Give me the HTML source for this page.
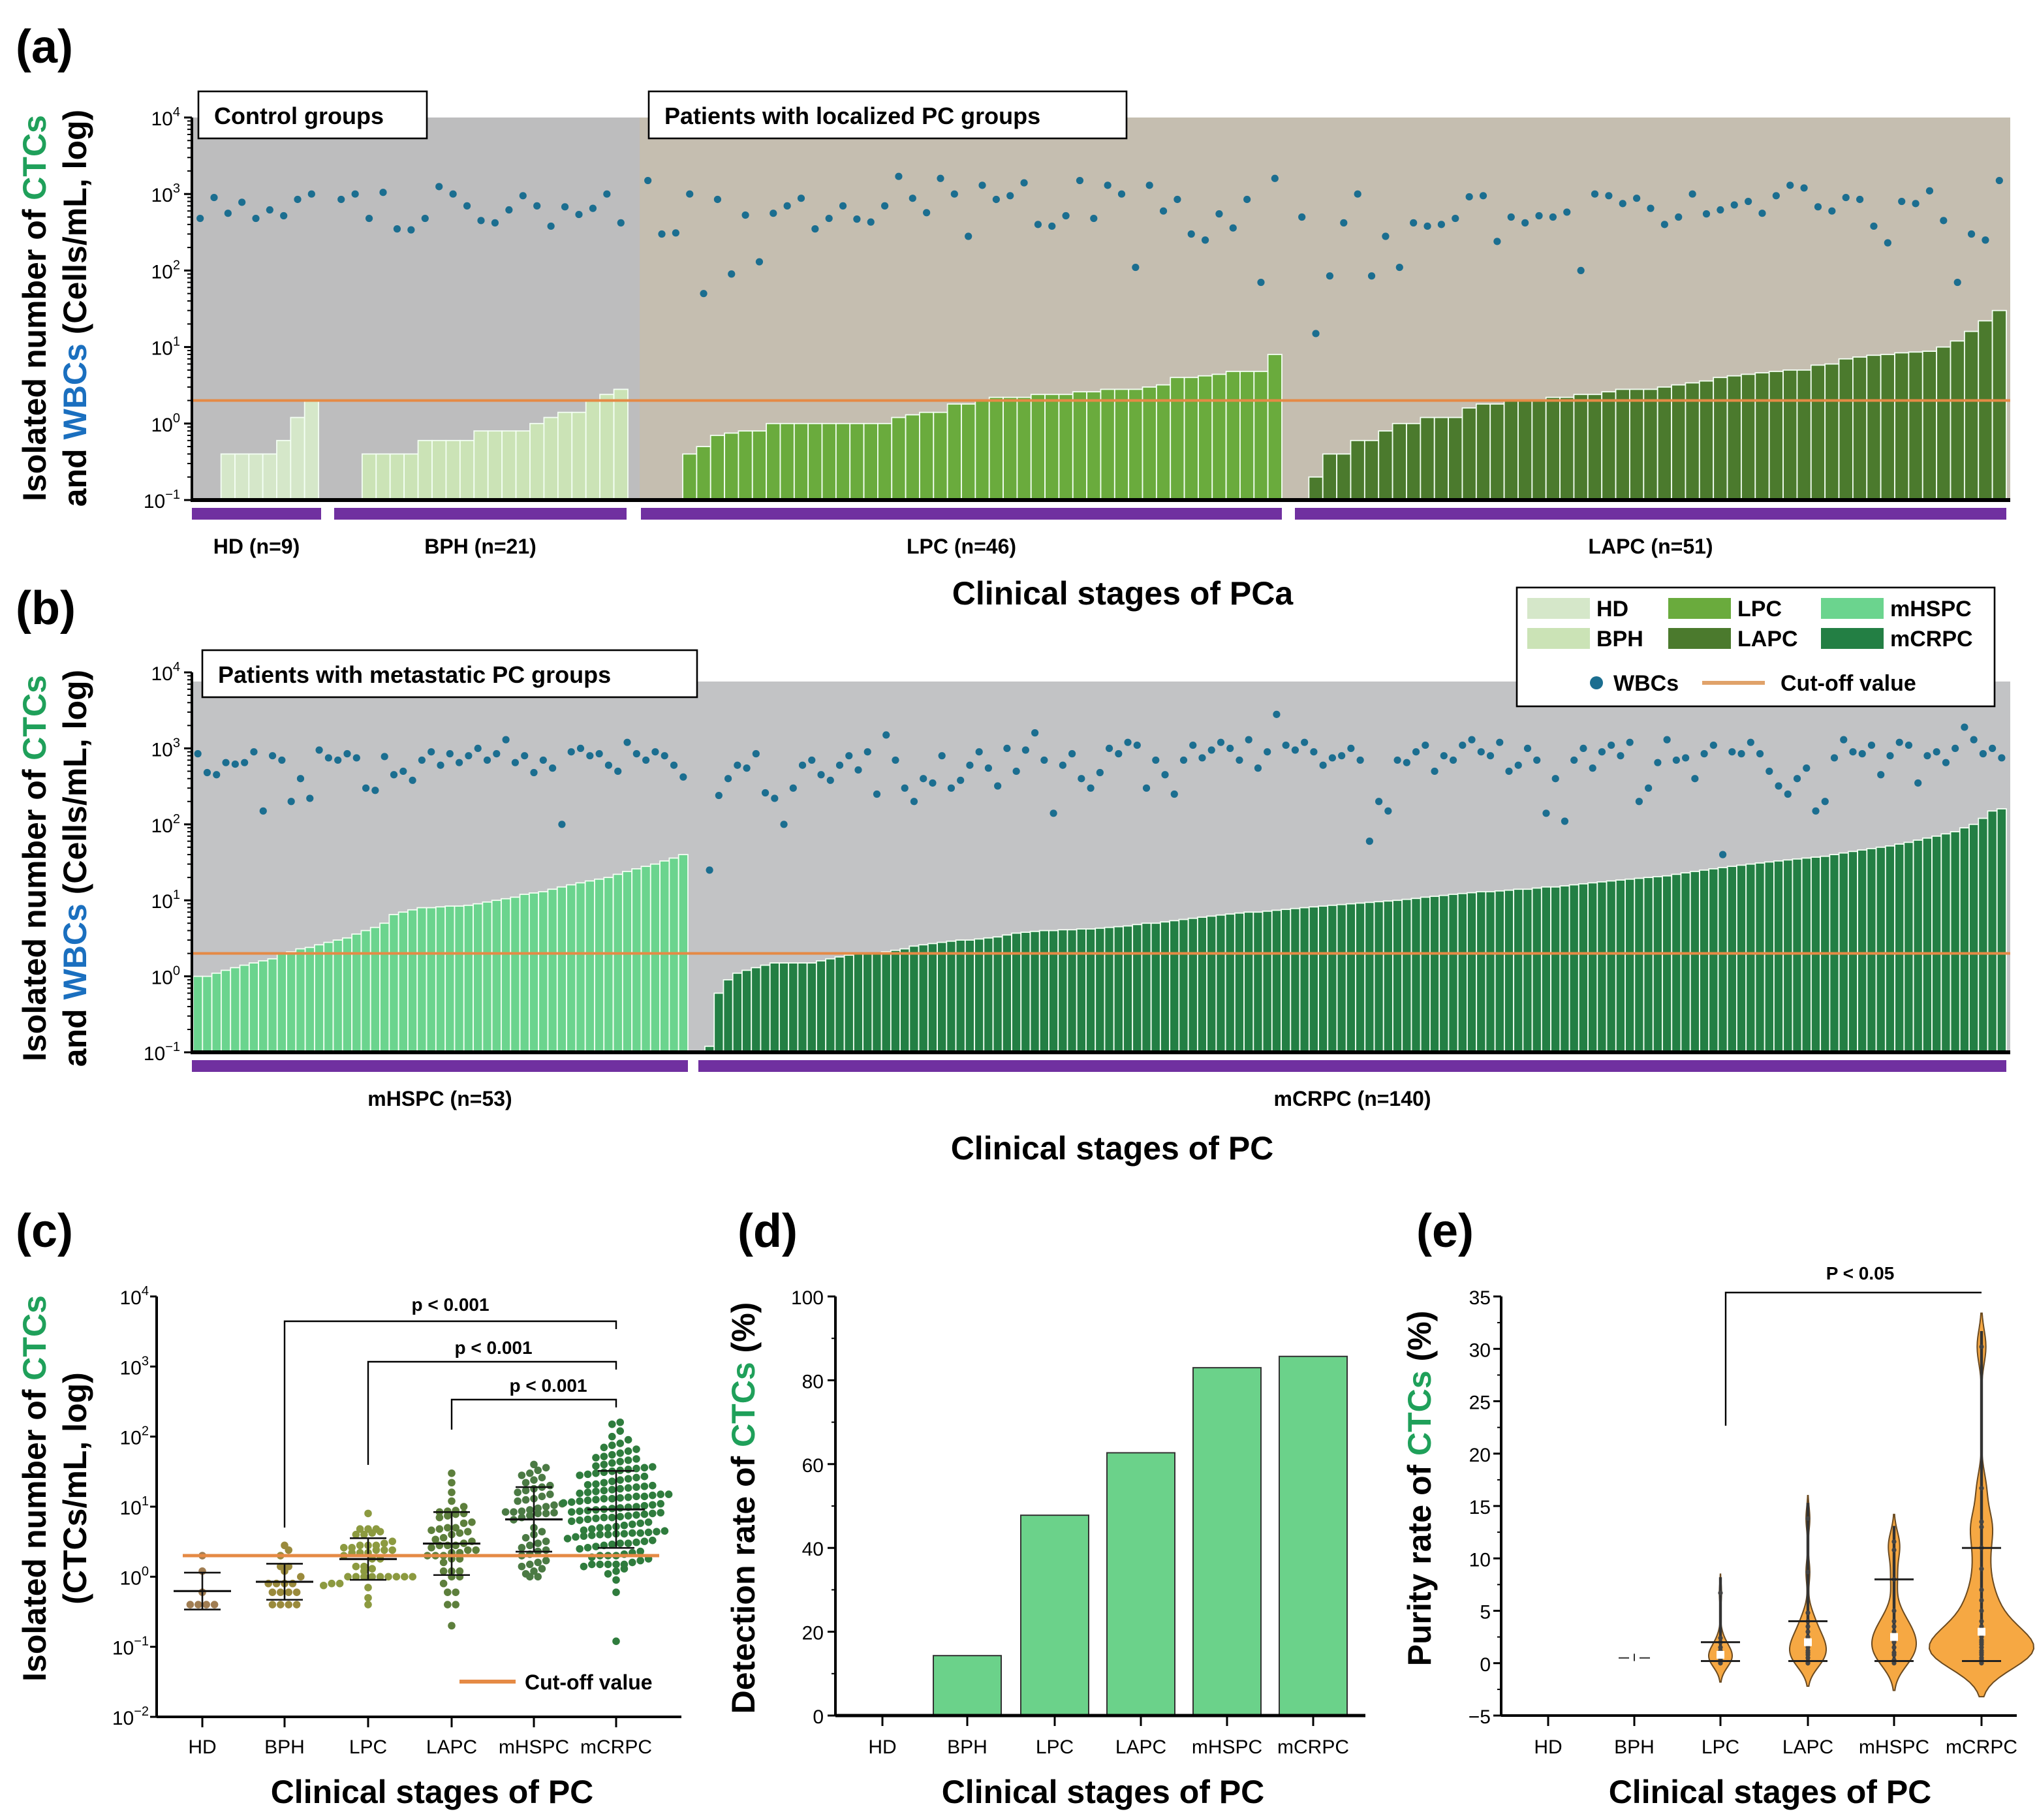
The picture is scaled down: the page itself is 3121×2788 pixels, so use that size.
<!DOCTYPE html>
<html><head><meta charset="utf-8"><style>
html,body{margin:0;padding:0;background:#fff;}
svg{display:block;font-family:"Liberation Sans",Arial,sans-serif;}
</style></head><body>
<svg id="fig" width="3121" height="2788" viewBox="0 0 1560.5 1394" xmlns="http://www.w3.org/2000/svg">
<rect x="0" y="0" width="1560.5" height="1394" fill="#fff"/>
<text x="12" y="48" font-size="36" font-weight="bold">(a)</text>
<text x="12" y="478" font-size="36" font-weight="bold">(b)</text>
<text x="12" y="955" font-size="36" font-weight="bold">(c)</text>
<text x="565" y="955" font-size="36" font-weight="bold">(d)</text>
<text x="1085" y="955" font-size="36" font-weight="bold">(e)</text>
<text transform="translate(35,236) rotate(-90)" text-anchor="middle" font-size="25" font-weight="bold">Isolated number of <tspan fill="#1fa05a">CTCs</tspan></text>
<text transform="translate(66,236) rotate(-90)" text-anchor="middle" font-size="25" font-weight="bold">and <tspan fill="#1a6fbf">WBCs</tspan> (Cells/mL, log)</text>
<text transform="translate(35,665) rotate(-90)" text-anchor="middle" font-size="25" font-weight="bold">Isolated number of <tspan fill="#1fa05a">CTCs</tspan></text>
<text transform="translate(66,665) rotate(-90)" text-anchor="middle" font-size="25" font-weight="bold">and <tspan fill="#1a6fbf">WBCs</tspan> (Cells/mL, log)</text>
<text transform="translate(35,1140) rotate(-90)" text-anchor="middle" font-size="25" font-weight="bold">Isolated number of <tspan fill="#1fa05a">CTCs</tspan></text>
<text transform="translate(66,1140) rotate(-90)" text-anchor="middle" font-size="25" font-weight="bold">(CTCs/mL, log)</text>
<text transform="translate(578,1155) rotate(-90)" text-anchor="middle" font-size="25" font-weight="bold">Detection rate of <tspan fill="#1fa05a">CTCs</tspan> (%)</text>
<text transform="translate(1096,1140) rotate(-90)" text-anchor="middle" font-size="25" font-weight="bold">Purity rate of <tspan fill="#1fa05a">CTCs</tspan> (%)</text>
<text x="860" y="463" text-anchor="middle" font-size="25" font-weight="bold">Clinical stages of PCa</text>
<text x="852" y="888" text-anchor="middle" font-size="25" font-weight="bold">Clinical stages of PC</text>
<text x="331" y="1381" text-anchor="middle" font-size="25" font-weight="bold">Clinical stages of PC</text>
<text x="845" y="1381" text-anchor="middle" font-size="25" font-weight="bold">Clinical stages of PC</text>
<text x="1356" y="1381" text-anchor="middle" font-size="25" font-weight="bold">Clinical stages of PC</text>
<g id="layer"></g>
</svg>
<script>
// ---------- DATA ----------
const cutoff = 2;
const hdCTC = [0,0,0.4,0.4,0.4,0.4,0.6,1.2,2.0];
const bphCTC = [0,0,.4,.4,.4,.4,.6,.6,.6,.6,.8,.8,.8,.8,1,1.2,1.4,1.4,2,2.4,2.8];
const lpcCTC = [0,0,0,.4,.5,.7,.75,.8,.8,1,1,1,1,1,1,1,1,1,1.2,1.3,1.4,1.4,1.8,1.8,2,2.2,2.2,2.2,2.4,2.4,2.4,2.6,2.6,2.8,2.8,2.8,3,3.2,4,4,4.2,4.4,4.8,4.8,4.8,8];
const lapcCTC = [0,0.2,0.4,0.4,0.6,0.6,0.8,1.0,1.0,1.2,1.2,1.2,1.6,1.8,1.8,2,2,2,2.2,2.2,2.4,2.4,2.6,2.8,2.8,2.8,3,3.2,3.4,3.6,4,4.2,4.4,4.6,4.8,5,5,5.8,6,7,7.4,7.8,8,8.4,8.6,8.8,10,12,16,22,30];
const hdWBC = [480,900,560,780,480,620,520,850,1000];
const bphWBC = [850,1000,480,1050,350,340,480,1250,1000,700,450,420,620,950,700,380,680,540,650,1000,420];
const lpcWBC = [1500,300,310,1000,50,850,90,530,130,560,700,880,350,480,700,470,430,700,1700,880,570,1600,1000,280,1300,850,950,1400,400,380,520,1500,480,1300,1000,110,1300,600,850,300,250,550,360,850,70,1600];
const lapcWBC = [500,15,85,420,1000,85,280,110,420,380,400,480,920,950,240,500,420,520,500,580,100,1000,950,750,880,650,400,500,1000,550,620,720,800,560,950,1300,1200,680,600,900,850,380,230,800,750,1100,450,70,300,250,1500];
const mhspcCTC = [1.0,1.0,1.1,1.2,1.3,1.4,1.5,1.6,1.7,2.0,2.1,2.3,2.4,2.6,2.8,3.0,3.2,3.6,4.0,4.4,5.0,6.5,7.0,7.5,8.0,8.0,8.2,8.4,8.4,8.6,9.0,9.5,10,10.5,11,12,12.5,13,14,15,16,17,18,19,20,22,24,26,28,30,33,36,40];
const mcrpcCTC = [0.12,0.6,0.9,1.1,1.2,1.3,1.4,1.5,1.5,1.5,1.5,1.5,1.6,1.7,1.8,1.9,2.0,2.0,2.0,2.1,2.2,2.3,2.5,2.6,2.7,2.8,2.9,3.0,3.0,3.1,3.2,3.3,3.5,3.7,3.8,3.9,4.0,4.0,4.1,4.1,4.2,4.2,4.3,4.4,4.5,4.6,4.8,5.0,5.0,5.2,5.4,5.6,5.8,6.0,6.2,6.4,6.6,6.8,7.0,7.0,7.2,7.4,7.6,7.8,8.0,8.2,8.4,8.6,8.8,9.0,9.2,9.4,9.6,9.8,10,10.3,10.6,11,11.3,11.6,12,12.3,12.6,13,13,13.3,13.6,14,14,14.5,15,15,15.5,16,16.5,17,17.5,18,18.5,19,19.5,20,20.5,21,22,23,24,25,26,27,28,29,30,31,32,33,34,35,36,37,38,40,42,44,46,48,50,52,55,58,62,66,70,75,80,90,100,120,150,160];
const mhspcWBC = [850,480,450,650,620,650,900,150,800,700,200,400,220,950,750,700,850,750,300,280,780,450,500,380,700,900,600,850,650,800,1000,700,850,1300,650,800,480,700,550,100,900,1000,800,850,600,500,1200,850,700,900,800,600,420];
const mcrpcWBC = [25,240,400,600,550,850,260,220,100,300,600,700,450,380,600,800,520,900,250,1500,700,300,200,400,350,800,300,380,600,900,550,320,1000,500,950,1600,700,140,600,850,400,300,480,1000,850,1200,1100,300,700,450,250,700,1100,750,950,1200,1000,700,1300,550,900,2800,1100,950,1200,900,600,750,800,1000,700,60,200,150,700,650,900,1100,500,800,700,1100,1300,900,800,1200,500,600,1000,700,140,400,110,700,1000,550,900,1100,800,1200,200,300,650,1300,700,750,400,850,1100,40,900,850,1200,850,500,320,250,400,550,150,200,750,1300,900,850,1100,450,800,1200,1100,350,800,900,650,1000,1900,1300,850,1000,750];
const stageLabels = ["HD","BPH","LPC","LAPC","mHSPC","mCRPC"];
const detectionRate = [0,14.3,47.8,62.7,83.0,85.7];
const logTickExps = [-1,0,1,2,3,4];
const logTickExpsC = [-2,-1,0,1,2,3,4];
const pctTicks = [0,20,40,60,80,100];
const purityTicks = [-5,0,5,10,15,20,25,30,35];
const purityLPC = [0,0,0.2,0.3,0.5,0.5,0.6,0.8,1,1,1.2,1.5,2,2.4,6.7];
const purityLAPC = [0,0,0.2,0.5,0.8,1,1.2,1.5,1.8,2,2.2,2.5,3,3.5,4,4.8,8.7,13.8];
const purityMHSPC = [0,0.3,0.8,1,1.5,2,2.2,2.5,3,3.5,4,5,8,10.8,11.6];
const purityMCRPC = [0,0.2,0.3,0.5,0.8,1,1.2,1.5,1.8,2,2.2,2.5,3,3.5,4,5,6,7,9,11,13,13.5,16.7,30.2];

// ---------- HELPERS ----------
const NS = "http://www.w3.org/2000/svg";
const L = document.getElementById('layer');
function mk(tag, attrs, name, inter, parent){
  const e = document.createElementNS(NS, tag);
  for (const k in attrs) e.setAttribute(k, attrs[k]);
  
  
  (parent || L).appendChild(e);
  return e;
}
function txt(x,y,s,size,name,opts){
  const t = mk('text', Object.assign({x:x,y:y,'font-size':size,'text-anchor':'middle'}, opts||{}), name, 'false');
  t.textContent = s;
  return t;
}
function logText(x,y,exp,name){
  const t = mk('text',{x:x,y:y,'font-size':15,'text-anchor':'end'},name,'false');
  const a = document.createElementNS(NS,'tspan'); a.textContent='10'; t.appendChild(a);
  const b = document.createElementNS(NS,'tspan'); b.setAttribute('dy','-7'); b.setAttribute('font-size','10'); b.textContent=String(exp).replace('-','\u2212'); t.appendChild(b);
}

// ---------- PANEL A/B ----------
function logPanel(pre, top, bottom, x0, x1, bgs, groups){
  const dec = (bottom-top)/5;
  const y = v => bottom - (Math.log10(v)+1)*dec;
  bgs.forEach((b,i)=>mk('rect',{x:b[0],y:b[1],width:b[2]-b[0],height:bottom-b[1],fill:b[3]},pre+'-background-'+i,'false'));
  groups.forEach(g=>{
    const w = (g.x1-g.x0)/g.ctc.length;
    g.ctc.forEach((v,i)=>{
      if (v>0.1) mk('rect',{x:g.x0+i*w,y:y(v),width:w,height:bottom-y(v),fill:g.color,stroke:'#f4fff4','stroke-width':0.9},pre+'-bar-'+g.key+'-'+i,'false');
    });
    g.wbc.forEach((v,i)=>{
      mk('circle',{cx:g.x0+(i+0.5)*w,cy:y(v),r:2.8,fill:'#1b6e90'},pre+'-wbc-'+g.key+'-'+i,'false');
    });
    mk('rect',{x:g.px0,y:bottom+6,width:g.px1-g.px0,height:9,fill:'#7030a0'},pre+'-group-bar-'+g.key,'false');
    txt((g.px0+g.px1)/2,bottom+41,g.label,16,pre+'-group-label-'+g.key,{'font-weight':'bold'});
  });
  mk('line',{x1:x0,x2:x1,y1:y(cutoff),y2:y(cutoff),stroke:'#e58a45','stroke-width':2},pre+'-cutoff-line','false');
  mk('line',{x1:x0,x2:x0,y1:top,y2:bottom,stroke:'#000','stroke-width':2},pre+'-y-axis','false');
  mk('line',{x1:x0-1,x2:x1,y1:bottom,y2:bottom,stroke:'#000','stroke-width':3},pre+'-x-axis','false');
  logTickExps.forEach(e=>{
    const yy = bottom-(e+1)*dec;
    mk('line',{x1:x0-6,x2:x0,y1:yy,y2:yy,stroke:'#000','stroke-width':1.5},pre+'-tick-'+e,'false');
    logText(x0-9,yy+6,e,pre+'-tick-label-'+e);
    if (e<4) for (let m=2;m<10;m++){
      const ym = yy - Math.log10(m)*dec;
      mk('line',{x1:x0-3.5,x2:x0,y1:ym,y2:ym,stroke:'#000','stroke-width':1},pre+'-minor-tick','false');
    }
  });
}
logPanel('a',90,383,147,1540,[[147,90,490,'#bdbdbe'],[490,90,1540,'#c5beb0']],[
  {key:'hd',ctc:hdCTC,wbc:hdWBC,x0:148,x1:244,color:'#d5e7c9',px0:147,px1:246,label:'HD (n=9)'},
  {key:'bph',ctc:bphCTC,wbc:bphWBC,x0:256,x1:481,color:'#cbe3b6',px0:256,px1:480,label:'BPH (n=21)'},
  {key:'lpc',ctc:lpcCTC,wbc:lpcWBC,x0:491,x1:982,color:'#6aab3d',px0:491,px1:982,label:'LPC (n=46)'},
  {key:'lapc',ctc:lapcCTC,wbc:lapcWBC,x0:992,x1:1537,color:'#4b7a2d',px0:992,px1:1537,label:'LAPC (n=51)'}
]);
logPanel('b',515,806,147,1540,[[147,522,1540,'#c2c3c5']],[
  {key:'mhspc',ctc:mhspcCTC,wbc:mhspcWBC,x0:148,x1:527,color:'#6bd48e',px0:147,px1:527,label:'mHSPC (n=53)'},
  {key:'mcrpc',ctc:mcrpcCTC,wbc:mcrpcWBC,x0:540,x1:1537,color:'#237f44',px0:535,px1:1537,label:'mCRPC (n=140)'}
]);
function box(x,y,w,h,s,name){
  mk('rect',{x:x,y:y,width:w,height:h,fill:'#fff',stroke:'#000','stroke-width':1.3},name,'false');
  txt(x+12,y+h/2+7,s,18,name+'-text',{'text-anchor':'start','font-weight':'bold'});
}
box(152,70,175,36,'Control groups','control-groups-box');
box(497,70,366,36,'Patients with localized PC groups','localized-groups-box');
box(155,498,379,36,'Patients with metastatic PC groups','metastatic-groups-box');
mk('rect',{x:1162,y:450,width:366,height:91,fill:'#fff',stroke:'#000','stroke-width':1.3},'legend-box','false');
const legItems=[['HD','#d5e7c9',1170,466],['BPH','#cbe3b6',1170,489],['LPC','#6aab3d',1278,466],['LAPC','#4b7a2d',1278,489],['mHSPC','#6bd48e',1395,466],['mCRPC','#237f44',1395,489]];
legItems.forEach(it=>{
  mk('rect',{x:it[2],y:it[3]-8,width:48,height:16,fill:it[1]},'legend-swatch-'+it[0],'false');
  txt(it[2]+53,it[3]+6,it[0],17,'legend-label-'+it[0],{'text-anchor':'start','font-weight':'bold'});
});
mk('circle',{cx:1223,cy:523,r:5,fill:'#1b6e90'},'legend-wbc-marker','false');
txt(1236,529,'WBCs',17,'legend-wbc-label',{'text-anchor':'start','font-weight':'bold'});
mk('line',{x1:1304,x2:1352,y1:523,y2:523,stroke:'#e0a26a','stroke-width':3},'legend-cutoff-marker','false');
txt(1364,529,'Cut-off value',17,'legend-cutoff-label',{'text-anchor':'start','font-weight':'bold'});

// ---------- PANEL C ----------
const cX0=120, cX1=522, cTop=993, cBot=1315;
const cDec=(cBot-cTop)/6;
const yc = v => cBot - (Math.log10(v)+2)*cDec;
const catX = [155,218,282,346,409,472];
const groupsC=[hdCTC,bphCTC,lpcCTC,lapcCTC,mhspcCTC,mcrpcCTC];
const dotCol=['#a07d52','#9a8a3c','#8c9a40','#5d7f3c','#4b7a44','#2f7c3d'];
groupsC.forEach((arr,gi)=>{
  const vals = arr.filter(v=>v>0).slice().sort((a,b)=>a-b);
  const bins={};
  vals.forEach(v=>{const b=Math.round(yc(v)/7); (bins[b]=bins[b]||[]).push(v);});
  Object.keys(bins).forEach(b=>{
    const list=bins[b];
    list.forEach((v,i)=>{
      const off = (i-(list.length-1)/2)*6.2;
      mk('circle',{cx:catX[gi]+off,cy:yc(v),r:2.9,fill:dotCol[gi]},'c-dot-'+stageLabels[gi],'false');
    });
  });
  const logs=vals.map(Math.log10);
  const m=logs.reduce((a,b)=>a+b,0)/logs.length;
  const sd=Math.sqrt(logs.reduce((a,b)=>a+(b-m)*(b-m),0)/logs.length);
  const yM=yc(Math.pow(10,m)), yHi=yc(Math.pow(10,m+sd)), yLo=yc(Math.pow(10,m-sd));
  mk('line',{x1:catX[gi],x2:catX[gi],y1:yHi,y2:yLo,stroke:'#111','stroke-width':1.3},'c-errorbar-'+stageLabels[gi],'false');
  mk('line',{x1:catX[gi]-22,x2:catX[gi]+22,y1:yM,y2:yM,stroke:'#111','stroke-width':1.6},'c-mean-'+stageLabels[gi],'false');
  mk('line',{x1:catX[gi]-14,x2:catX[gi]+14,y1:yHi,y2:yHi,stroke:'#111','stroke-width':1.3},'c-sd-hi-'+stageLabels[gi],'false');
  mk('line',{x1:catX[gi]-14,x2:catX[gi]+14,y1:yLo,y2:yLo,stroke:'#111','stroke-width':1.3},'c-sd-lo-'+stageLabels[gi],'false');
});
mk('line',{x1:140,x2:505,y1:yc(cutoff),y2:yc(cutoff),stroke:'#e58a45','stroke-width':2.5},'c-cutoff-line','false');
mk('line',{x1:cX0,x2:cX0,y1:cTop,y2:cBot,stroke:'#000','stroke-width':2},'c-y-axis','false');
mk('line',{x1:cX0,x2:cX1,y1:cBot,y2:cBot,stroke:'#000','stroke-width':2},'c-x-axis','false');
logTickExpsC.forEach(e=>{
  const yy=cBot-(e+2)*cDec;
  mk('line',{x1:cX0-5,x2:cX0,y1:yy,y2:yy,stroke:'#000','stroke-width':1.5},'c-tick-'+e,'false');
  logText(cX0-6,yy+6,e,'c-tick-label-'+e);
});
stageLabels.forEach((s,i)=>{
  mk('line',{x1:catX[i],x2:catX[i],y1:cBot,y2:cBot+8,stroke:'#000','stroke-width':1.5},'c-xtick-'+s,'false');
  txt(catX[i],cBot+28,s,15,'c-xtick-label-'+s);
});
function bracket(xa,xb,yTop,yLeftEnd,label,pre,tx,ty,fs){
  mk('polyline',{points:`${xa},${yLeftEnd} ${xa},${yTop} ${xb},${yTop} ${xb},${yTop+6}`,fill:'none',stroke:'#000','stroke-width':1.2},pre,'false');
  txt(tx,ty,label,fs||14,pre+'-label',{'font-weight':'bold'});
}
bracket(catX[1],catX[5],1012,1170,'p < 0.001','c-bracket-bph',345,1004);
bracket(catX[2],catX[5],1043,1122,'p < 0.001','c-bracket-lpc',378,1037);
bracket(catX[3],catX[5],1072,1095,'p < 0.001','c-bracket-lapc',420,1066);
mk('line',{x1:352,x2:395,y1:1288,y2:1288,stroke:'#e58a45','stroke-width':3},'c-legend-cutoff-marker','false');
txt(402,1294,'Cut-off value',16,'c-legend-cutoff-label',{'text-anchor':'start','font-weight':'bold'});

// ---------- PANEL D ----------
const dX0=640,dX1=1046,dTop=993,dBot=1314;
const yd = v => dBot - v/100*(dBot-dTop);
const dX = [676,741,808,874,940,1006];
detectionRate.forEach((v,i)=>{
  if (v>0) mk('rect',{x:dX[i]-26,y:yd(v),width:52,height:dBot-yd(v),fill:'#6bd28a',stroke:'#333','stroke-width':1},'d-bar-'+stageLabels[i],'false');
});
mk('line',{x1:dX0,x2:dX0,y1:dTop,y2:dBot,stroke:'#000','stroke-width':2},'d-y-axis','false');
mk('line',{x1:dX0,x2:dX1,y1:dBot,y2:dBot,stroke:'#000','stroke-width':2.5},'d-x-axis','false');
pctTicks.forEach(t=>{
  mk('line',{x1:dX0-6,x2:dX0,y1:yd(t),y2:yd(t),stroke:'#000','stroke-width':1.5},'d-tick-'+t,'false');
  txt(dX0-9,yd(t)+6,String(t),15,'d-tick-label-'+t,{'text-anchor':'end'});
  if (t<100) mk('line',{x1:dX0-3,x2:dX0,y1:yd(t+10),y2:yd(t+10),stroke:'#000','stroke-width':1},'d-minor-tick','false');
});
stageLabels.forEach((s,i)=>{
  mk('line',{x1:dX[i],x2:dX[i],y1:dBot,y2:dBot+8,stroke:'#000','stroke-width':1.5},'d-xtick-'+s,'false');
  txt(dX[i],dBot+29,s,15,'d-xtick-label-'+s);
});

// ---------- PANEL E ----------
const eX0=1150,eX1=1545,eTop=993,eBot=1314;
const ye = v => eBot - (v+5)/40*(eBot-eTop);
const eX=[1186,1252,1318,1385,1451,1518];
mk('line',{x1:eX[1]-12,x2:eX[1]-4,y1:ye(0.5),y2:ye(0.5),stroke:'#333','stroke-width':1},'e-bph-mark','false');
mk('line',{x1:eX[1]+4,x2:eX[1]+12,y1:ye(0.5),y2:ye(0.5),stroke:'#333','stroke-width':1},'e-bph-mark','false');
mk('line',{x1:eX[1],x2:eX[1],y1:ye(0.2),y2:ye(0.9),stroke:'#333','stroke-width':1},'e-bph-mark','false');
const vioGroups=[[purityLPC,2,9,0.9],[purityLAPC,3,14,1.1],[purityMHSPC,4,17,1.3],[purityMCRPC,5,40,1.6]];
vioGroups.forEach(g=>{
  const d=g[0], cx=eX[g[1]], maxW=g[2], bw=g[3];
  const lo=Math.min(...d)-2*bw, hi=Math.max(...d)+2*bw;
  const pts=[]; let mx=0;
  for(let i=0;i<=80;i++){
    const v=lo+(hi-lo)*i/80;
    let s=0; d.forEach(x=>{s+=Math.exp(-0.5*((v-x)/bw)**2);});
    pts.push([v,s]); if(s>mx) mx=s;
  }
  const right=pts.map(p=>`${cx+p[1]/mx*maxW},${ye(p[0])}`);
  const left=pts.slice().reverse().map(p=>`${cx-p[1]/mx*maxW},${ye(p[0])}`);
  mk('polygon',{points:right.concat(left).join(' '),fill:'#f6a843',stroke:'#6b4a20','stroke-width':1},'e-violin-'+stageLabels[g[1]],'false');
  const s=d.slice().sort((a,b)=>a-b);
  const p80=s[Math.floor(s.length*0.8)];
  mk('line',{x1:cx,x2:cx,y1:ye(s[s.length-1]+1.5),y2:ye(s[0]),stroke:'#333','stroke-width':2.2},'e-range-'+stageLabels[g[1]],'false');
  s.forEach(v=>mk('circle',{cx:cx,cy:ye(v),r:1.8,fill:'#444'},'e-point-'+stageLabels[g[1]],'false'));
  mk('line',{x1:cx-15,x2:cx+15,y1:ye(p80),y2:ye(p80),stroke:'#222','stroke-width':1.5},'e-upper-'+stageLabels[g[1]],'false');
  mk('line',{x1:cx-15,x2:cx+15,y1:ye(s[0]+0.2),y2:ye(s[0]+0.2),stroke:'#222','stroke-width':1.5},'e-min-'+stageLabels[g[1]],'false');
  const med=s[Math.floor(s.length/2)];
  mk('rect',{x:cx-3,y:ye(med)-3,width:6,height:6,fill:'#fff'},'e-median-'+stageLabels[g[1]],'false');
});
mk('line',{x1:eX0,x2:eX0,y1:eTop,y2:eBot,stroke:'#000','stroke-width':2},'e-y-axis','false');
mk('line',{x1:eX0,x2:eX1,y1:eBot,y2:eBot,stroke:'#000','stroke-width':2},'e-x-axis','false');
purityTicks.forEach(t=>{
  mk('line',{x1:eX0-6,x2:eX0,y1:ye(t),y2:ye(t),stroke:'#000','stroke-width':1.5},'e-tick-'+t,'false');
  txt(eX0-8,ye(t)+6,String(t).replace('-','\u2212'),15,'e-tick-label-'+t,{'text-anchor':'end'});
  if (t<35) mk('line',{x1:eX0-3,x2:eX0,y1:ye(t+2.5),y2:ye(t+2.5),stroke:'#000','stroke-width':1},'e-minor-tick','false');
});
stageLabels.forEach((s,i)=>{
  mk('line',{x1:eX[i],x2:eX[i],y1:eBot,y2:eBot+8,stroke:'#000','stroke-width':1.5},'e-xtick-'+s,'false');
  txt(eX[i],eBot+29,s,15,'e-xtick-label-'+s);
});
mk('polyline',{points:`${eX[2]+4},1092 ${eX[2]+4},990 ${eX[5]},990`,fill:'none',stroke:'#000','stroke-width':1.2},'e-bracket','false');
txt(1425,980,'P < 0.05',14,'e-bracket-label',{'font-weight':'bold'});
</script>
</body></html>
